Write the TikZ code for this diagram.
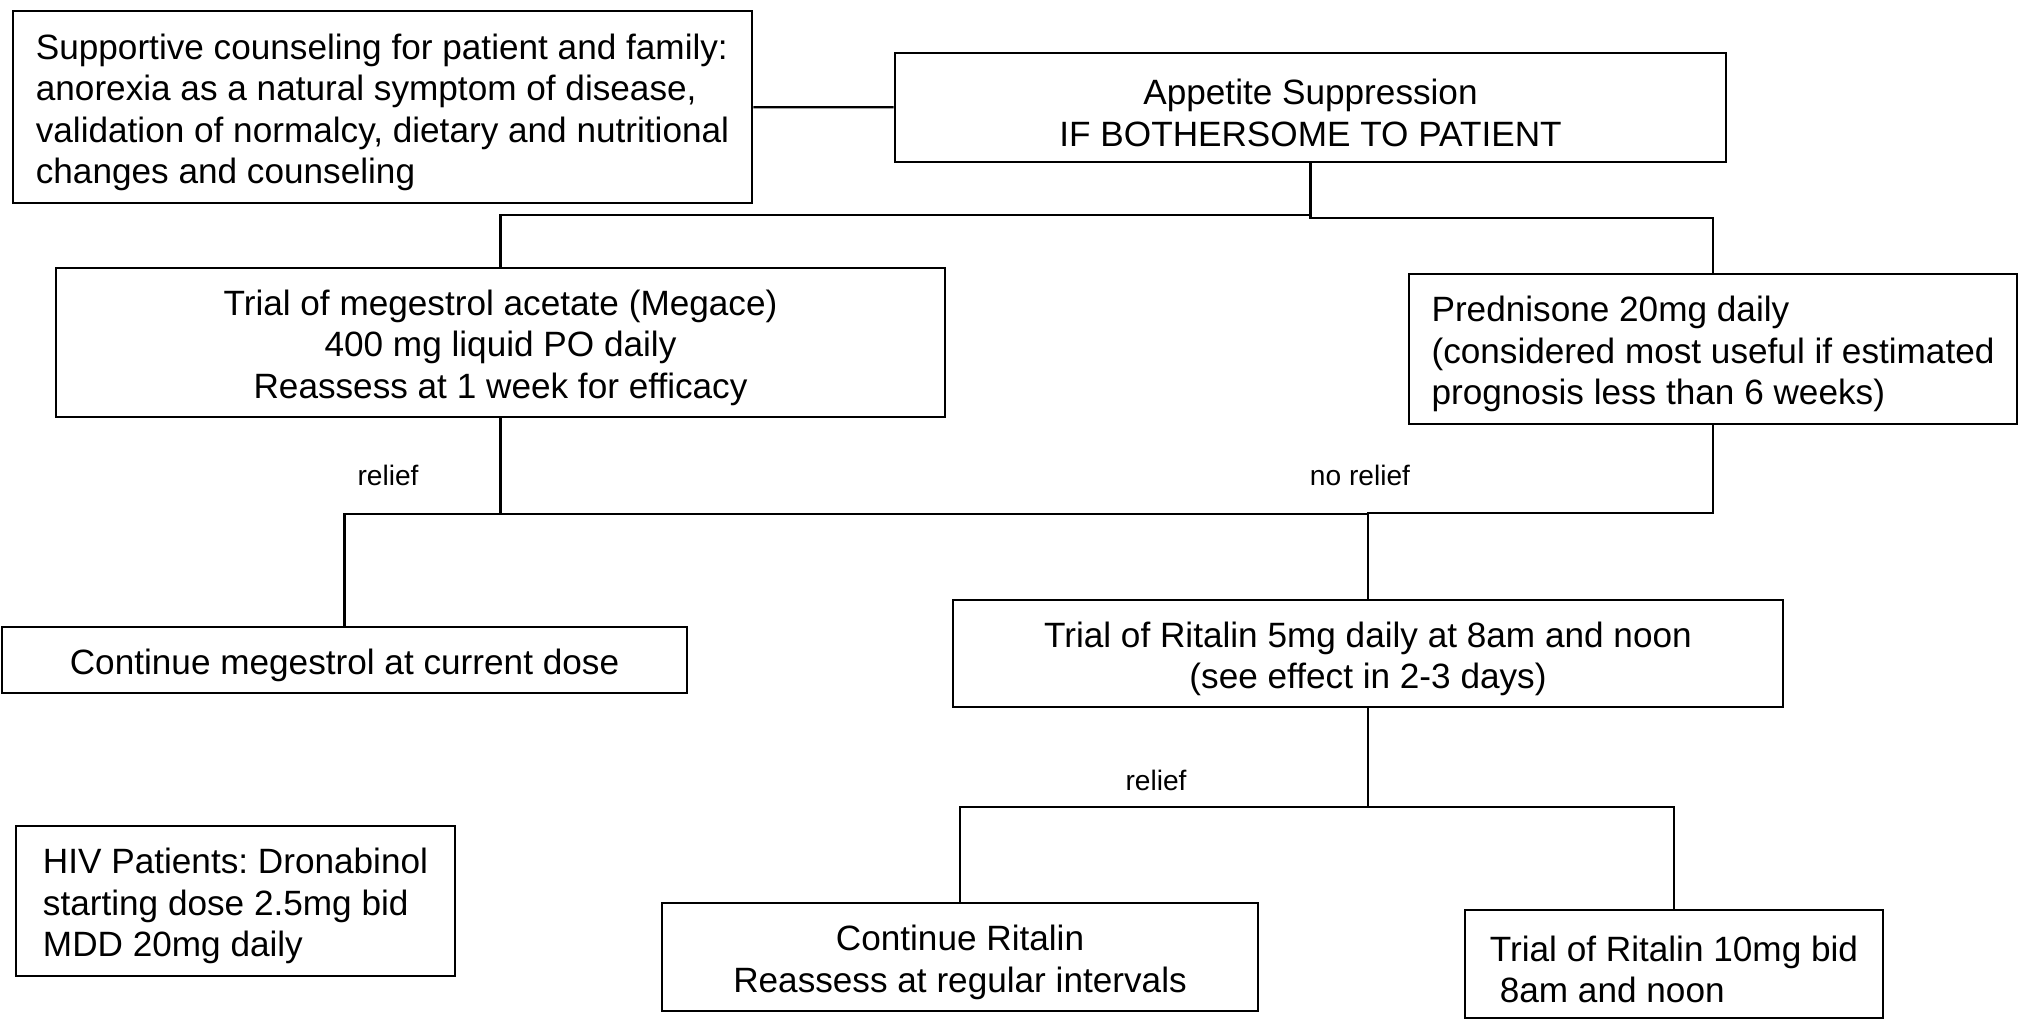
\documentclass[tikz,border=0pt]{standalone}
\usepackage{fontspec}
\setmainfont{Liberation Sans}
\frenchspacing
\newcommand{\topgap}{\rule{0pt}{10.2pt}}

\begin{document}
\begin{tikzpicture}[
    x=0.01cm, y=-0.01cm,
    box/.style={rectangle, draw=black, line width=0.6pt, align=center,
        inner sep=2pt, font=\fontsize{10pt}{11.8pt}\selectfont},
    leftbox/.style={box, align=left},
    link/.style={line width=0.6pt, -},
    tag/.style={inner sep=1pt, font=\fontsize{8pt}{9.6pt}\selectfont}
]
    \useasboundingbox (0,0) rectangle (2028,1021);
    \node[leftbox, minimum width=7.39cm, minimum height=1.92cm] (support) at (382.5,107)
        {\topgap Supportive counseling for patient and family:\\anorexia as a natural symptom of disease,\\validation of normalcy, dietary and nutritional\\changes and counseling};
    \node[box, minimum width=8.31cm, minimum height=1.09cm] (appetite) at (1310.5,107.5)
        {\topgap Appetite Suppression\\IF BOTHERSOME TO PATIENT};
    \node[box, minimum width=8.89cm, minimum height=1.49cm] (megace) at (500.5,342.5)
        {\topgap Trial of megestrol acetate (Megace)\\400 mg liquid PO daily\\Reassess at 1 week for efficacy};
    \node[leftbox, minimum width=6.08cm, minimum height=1.50cm] (pred) at (1713,349)
        {\topgap Prednisone 20mg daily\\(considered most useful if estimated\\prognosis less than 6 weeks)};
    \node[box, minimum width=6.85cm, minimum height=0.66cm] (keepmeg) at (344.5,660)
        {\topgap Continue megestrol at current dose};
    \node[box, minimum width=8.30cm, minimum height=1.07cm] (ritalin) at (1368,653.5)
        {\topgap Trial of Ritalin 5mg daily at 8am and noon\\(see effect in 2-3 days)};
    \node[leftbox, minimum width=4.39cm, minimum height=1.50cm] (hiv) at (235.5,901)
        {\topgap HIV Patients: Dronabinol\\starting dose 2.5mg bid\\MDD 20mg daily};
    \node[box, minimum width=5.96cm, minimum height=1.08cm] (keeprit) at (960,957)
        {\topgap Continue Ritalin\\Reassess at regular intervals};
    \node[leftbox, minimum width=4.18cm, minimum height=1.08cm] (ritten) at (1674,964)
        {\topgap Trial of Ritalin 10mg bid\\\hspace{0.28em}8am and noon};

    \node[tag] (relief1) at (388,475) {relief};
    \node[tag] (norelief) at (1360,475) {no relief};
    \node[tag] (relief2) at (1156,780) {relief};

    \draw[link] (support) -- (appetite);
    \draw[link] (appetite.south) -- ++(0,52) -| (megace.north);
    \draw[link] (appetite.south) -- ++(0,55) -| (pred.north);
    \draw[link] (megace.south) -- ++(0,96) -| (keepmeg.north);
    \draw[link] (megace.south) -- ++(0,96) -| (ritalin.north);
    \draw[link] (pred.south) -- ++(0,88) -| (ritalin.north);
    \draw[link] (ritalin.south) -- ++(0,99) -| (keeprit.north);
    \draw[link] (ritalin.south) -- ++(0,99) -| (ritten.north);
\end{tikzpicture}
\end{document}
